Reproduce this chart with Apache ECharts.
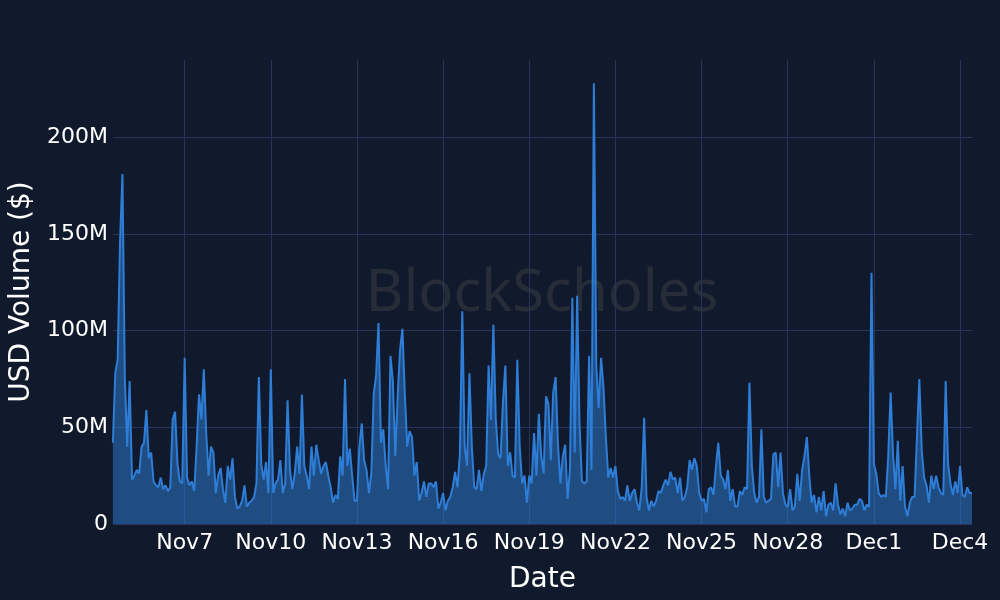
<!DOCTYPE html>
<html>
<head>
<meta charset="utf-8">
<script src="https://cdn.jsdelivr.net/npm/echarts@6/dist/echarts.min.js"></script>
<style>
  html, body { margin: 0; padding: 0; background: #111a2d; }
  #chart { width: 1000px; height: 600px; }
</style>
</head>
<body>
<div id="chart"></div>
<script>
// volume in millions of USD, one value every 2 hours from Nov 4 12:00
const startTime = Date.UTC(2022, 10, 4, 12);
const stepHours = 2;

const volNov4 = [
  42, 78, 85, 146, 181, 75, 40, 74, 23, 25,
  28, 26, 40, 42, 59, 34, 37, 22, 20, 19,
  24, 18, 20, 17, 19, 54, 58, 31, 22, 21,
  86, 24, 20, 22, 17, 40, 67, 54, 80, 47,
  25, 40, 37, 16, 25, 29, 18, 11, 30, 23,
  34, 14, 8, 9, 12, 20, 9, 11, 12, 14,
  21, 76, 31, 23, 32, 16, 80, 16, 21, 23,
  33, 16
];
const volNov10 = [
  21, 64, 28, 18, 26, 40, 26, 67, 30, 25,
  18, 40, 25, 41, 33, 26, 30, 32, 25, 19,
  11, 15, 13, 35, 25, 75, 30, 39, 25, 12,
  12, 40, 52, 33, 28, 16, 26, 67, 77, 104,
  42, 49, 30, 18, 87, 74, 35, 66, 90, 101,
  67, 40, 48, 45, 25, 32, 12, 16, 22, 14,
  21, 21, 19, 22, 8, 11, 16, 7, 12, 14,
  19, 27
];
const volNov16 = [
  19, 36, 110, 40, 30, 78, 40, 19, 18, 28,
  17, 26, 30, 82, 54, 103, 54, 36, 34, 63,
  82, 30, 37, 25, 24, 85, 40, 21, 25, 11,
  25, 21, 47, 25, 57, 35, 26, 66, 62, 33,
  68, 76, 41, 21, 35, 41, 13, 28, 117, 37,
  118, 52, 22, 21, 22, 87, 28, 228, 82, 60,
  86, 71, 45, 24, 29, 24, 30, 17, 13, 14,
  12, 20
];
const volNov22 = [
  12, 16, 18, 11, 7, 19, 55, 14, 7, 12,
  9, 12, 17, 16, 20, 23, 20, 27, 23, 24,
  16, 24, 12, 14, 19, 33, 28, 34, 30, 16,
  12, 13, 6, 18, 19, 15, 30, 42, 25, 23,
  18, 28, 12, 18, 9, 9, 17, 15, 19, 18,
  73, 30, 16, 11, 14, 49, 14, 11, 12, 13,
  36, 37, 19, 37, 16, 10, 9, 18, 7, 9,
  26, 12
];
const volNov28 = [
  28, 35, 45, 25, 11, 15, 6, 14, 7, 17,
  4, 10, 11, 7, 21, 10, 5, 8, 4, 11,
  7, 8, 10, 10, 13, 12, 7, 10, 9, 130,
  31, 26, 16, 14, 15, 14, 35, 68, 36, 18,
  43, 12, 30, 9, 4, 11, 14, 14, 45, 75,
  38, 24, 20, 11, 25, 18, 25, 19, 16, 15,
  74, 31, 21, 15, 22, 16, 30, 15, 14, 19,
  16, 16
];

const tickDates = ['2022-11-07', '2022-11-10', '2022-11-13', '2022-11-16', '2022-11-19',
  '2022-11-22', '2022-11-25', '2022-11-28', '2022-12-01', '2022-12-04'];
const tickLabels = ['Nov7', 'Nov10', 'Nov13', 'Nov16', 'Nov19',
  'Nov22', 'Nov25', 'Nov28', 'Dec1', 'Dec4'];
const yTicks = [0, 50, 100, 150, 200];

const volume = [].concat(volNov4, volNov10, volNov16, volNov22, volNov28);
const seriesData = volume.map((v, i) => [startTime + i * stepHours * 3600 * 1000, v]);
const tickTimes = tickDates.map(d => Date.parse(d));

const myChart = echarts.init(document.getElementById('chart'));

const textColor = '#ffffff';
const gridColor = '#27345a';
const lineColor = '#2e7dd6';

const option = {
  backgroundColor: '#111a2d',
  textStyle: { fontFamily: 'DejaVu Sans' },
  animation: false,
  grid: { left: 112, right: 28, top: 60, bottom: 76 },
  graphic: [{
    type: 'text',
    z: 0,
    style: {
      text: 'BlockScholes',
      x: 542,
      y: 294,
      align: 'center',
      verticalAlign: 'middle',
      font: '58px "Noto Sans"',
      fill: 'rgba(70,70,72,0.42)'
    }
  }],
  xAxis: {
    type: 'value',
    min: startTime,
    max: seriesData[seriesData.length - 1][0],
    name: 'Date',
    nameLocation: 'middle',
    nameGap: 42,
    nameTextStyle: { color: textColor, fontSize: 28 },
    axisLine: { show: false },
    axisTick: { show: false, customValues: tickTimes },
    axisLabel: {
      customValues: tickTimes,
      color: textColor,
      fontSize: 22,
      margin: 8,
      formatter: function (val) {
        const idx = tickTimes.indexOf(val);
        return idx >= 0 ? tickLabels[idx] : '';
      }
    },
    splitLine: { show: true, lineStyle: { color: gridColor, width: 1 } }
  },
  yAxis: {
    type: 'value',
    min: 0,
    max: 240,
    name: 'USD Volume ($)',
    nameLocation: 'middle',
    nameGap: 72,
    nameTextStyle: { color: textColor, fontSize: 28 },
    axisLine: { show: false },
    axisTick: { show: false, customValues: yTicks },
    axisLabel: {
      customValues: yTicks,
      color: textColor,
      fontSize: 22,
      margin: 5,
      formatter: function (v) { return v === 0 ? '0' : v + 'M'; }
    },
    splitLine: { show: true, lineStyle: { color: gridColor, width: 1 } }
  },
  series: [{
    name: 'Volume',
    type: 'line',
    data: seriesData,
    symbol: 'none',
    lineStyle: { color: lineColor, width: 2 },
    itemStyle: { color: lineColor },
    areaStyle: { color: lineColor, opacity: 0.5 }
  }]
};

myChart.setOption(option);
</script>
</body>
</html>
